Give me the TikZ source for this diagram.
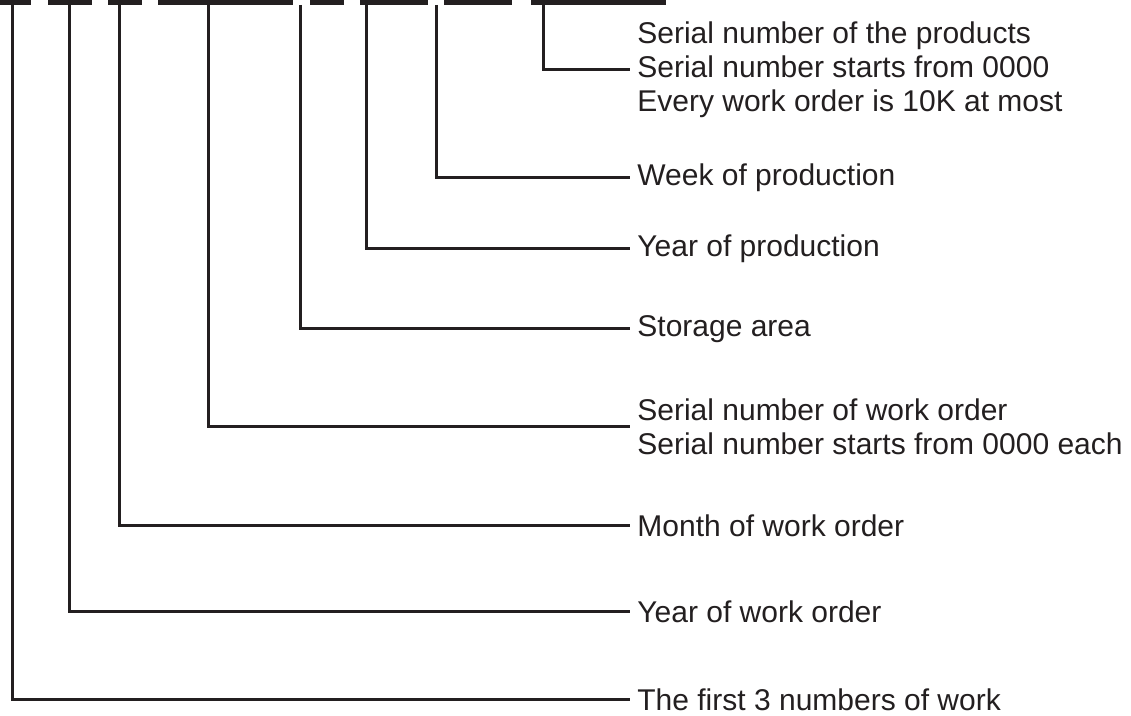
\documentclass[tikz,border=0pt]{standalone}
\usepackage{fontspec}
\setmainfont{Liberation Sans}
\usepackage{tikz}
\definecolor{ink}{RGB}{35,31,32}
\tikzstyle{field} = [draw=ink, line width=1.5pt]
\tikzstyle{bar} = [fill=ink]
\tikzstyle{desc} = [anchor=west, inner xsep=3.5pt, inner ysep=0pt, align=left, text=ink, font=\fontsize{15pt}{17pt}\selectfont]

\begin{document}
\begin{tikzpicture}[x=0.5pt, y=-0.5pt]
    \useasboundingbox (0,0) rectangle (1131,716);

    % code boxes along the top
    \fill [bar] (0,0) rectangle (31,5.5);
    \fill [bar] (48,0) rectangle (92,5.5);
    \fill [bar] (108,0) rectangle (142,5.5);
    \fill [bar] (158,0) rectangle (293,5.5);
    \fill [bar] (310,0) rectangle (344,5.5);
    \fill [bar] (360,0) rectangle (428,5.5);
    \fill [bar] (444,0) rectangle (512,5.5);
    \fill [bar] (531,0) rectangle (666,5.5);

    % tops of the field lines
    \coordinate (fprefix) at (12,5);
    \coordinate (fwoyear) at (69,5);
    \coordinate (fwomonth) at (119,5);
    \coordinate (fwoserial) at (208,5);
    \coordinate (fstorage) at (300,5);
    \coordinate (fpyear) at (366,5);
    \coordinate (fpweek) at (436,5);
    \coordinate (fpserial) at (543,5);

    % descriptions
    \node [desc] (pserial) at (630,70) {Serial number of the products\\Serial number starts from 0000\\Every work order is 10K at most};
    \node [desc] (pweek) at (630,178) {Week of production};
    \node [desc] (pyear) at (630,249) {Year of production};
    \node [desc] (storage) at (630,329) {Storage area};
    \node [desc] (woserial) at (630,427) {Serial number of work order\\Serial number starts from 0000 each};
    \node [desc] (womonth) at (630,526) {Month of work order};
    \node [desc] (woyear) at (630,612) {Year of work order};
    \node [desc] (prefix) at (630,700) {The first 3 numbers of work};

    % field lines
    \draw [field] (fpserial) |- (pserial.west);
    \draw [field] (fpweek) |- (pweek.west);
    \draw [field] (fpyear) |- (pyear.west);
    \draw [field] (fstorage) |- (storage.west);
    \draw [field] (fwoserial) |- (woserial.west);
    \draw [field] (fwomonth) |- (womonth.west);
    \draw [field] (fwoyear) |- (woyear.west);
    \draw [field] (fprefix) |- (prefix.west);
\end{tikzpicture}
\end{document}
